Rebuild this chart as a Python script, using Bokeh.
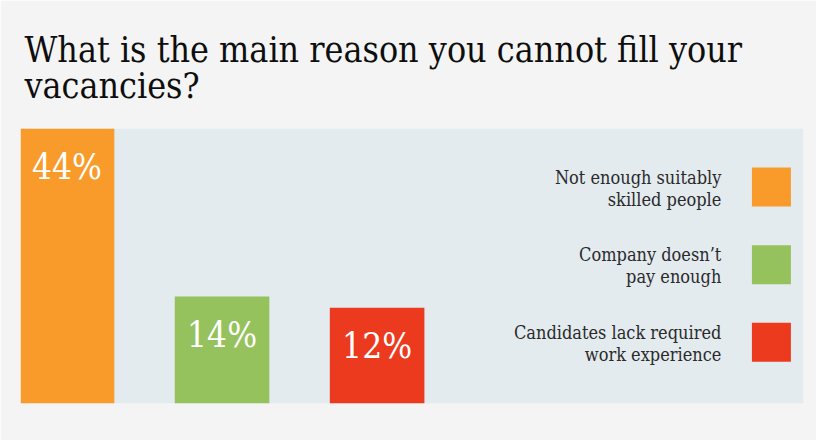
from bokeh.plotting import figure
from bokeh.models import Range1d, ColumnDataSource
from bokeh.core.properties import value
from bokeh.embed import file_html
from bokeh.resources import INLINE

# ---- data ----
categories = ["Not enough suitably skilled people",
              "Company doesn\u2019t pay enough",
              "Candidates lack required work experience"]
legend_line1 = ["Not enough suitably", "Company doesn\u2019t", "Candidates lack required"]
legend_line2 = ["skilled people", "pay enough", "work experience"]
values = [44, 14, 12]
labels = ["44%", "14%", "12%"]
colors = ["#F99B2A", "#95C25C", "#EC3A1F"]

TITLE = "What is the main reason you cannot fill your\nvacancies?"
SERIF = "DejaVu Serif Condensed"

W, H = 816, 440
p = figure(width=W, height=H, output_backend="svg", toolbar_location=None,
           x_range=Range1d(-0.30, 4.75), y_range=Range1d(-5.1, 44),
           min_border_left=20, min_border_right=13, min_border_top=128,
           min_border_bottom=37)
p.extra_y_ranges = {"leg": Range1d(2.79, -0.755)}
p.background_fill_color = "#E3EBEF"
p.border_fill_color = "#F4F4F4"
p.outline_line_color = None
p.xaxis.visible = False
p.yaxis.visible = False
p.xgrid.visible = False
p.ygrid.visible = False

p.title.text = TITLE
p.title.text_font = SERIF
p.title.text_font_size = "35.5px"
p.title.text_font_style = "normal"
p.title.text_color = "#0E0E0E"
p.title.text_line_height = 0.88
p.title.align = "left"
p.title.offset = 4
p.title.standoff = 44

idx = list(range(len(values)))
src = ColumnDataSource(dict(x=idx, top=values, lab=labels, color=colors,
                            l1=legend_line1, l2=legend_line2, cat=categories))
base = p.y_range.start
p.vbar(x="x", top="top", bottom=base, width=0.61, fill_color="color",
       line_color=None, source=src)
p.text(x="x", y="top", text="lab", text_color="white", text_align="center",
       text_baseline="middle", y_offset=38, text_font=value(SERIF),
       text_font_size="35px", source=src)

# legend (squares on the right, text right-aligned to their left)
leg_x = 4.543
txt_x = 4.22
p.rect(x=leg_x, y="x", width=39, height=39, width_units="screen",
       height_units="screen", fill_color="color", line_color=None,
       source=src, y_range_name="leg")
p.text(x=txt_x, y="x", text="l1", text_align="right", text_baseline="middle",
       y_offset=-10, text_font=value(SERIF), text_font_size="18px",
       text_color="#2A2A2A", source=src, y_range_name="leg")
p.text(x=txt_x, y="x", text="l2", text_align="right", text_baseline="middle",
       y_offset=12, text_font=value(SERIF), text_font_size="18px",
       text_color="#2A2A2A", source=src, y_range_name="leg")

open("out.html", "w").write(file_html(p, INLINE))
